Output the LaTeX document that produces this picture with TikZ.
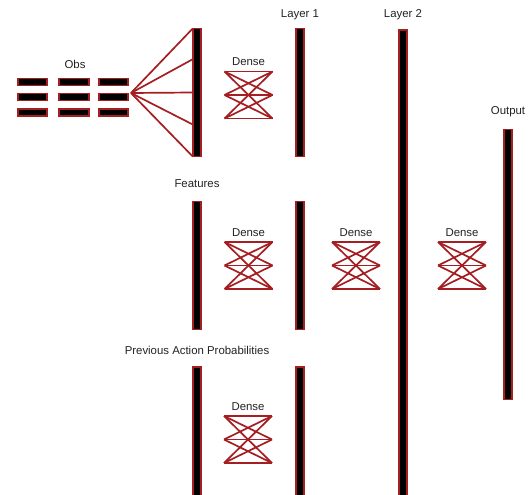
\documentclass[tikz,border=0pt]{standalone}
\usepackage{fontspec}
\setmainfont{Liberation Sans}
\usetikzlibrary{calc}
\definecolor{netred}{HTML}{A51E22}
\definecolor{labelgray}{HTML}{222222}
\tikzset{
  bar/.style={draw=netred, fill=black, line width=1.6pt, minimum width=8.5pt, inner sep=0pt, outer sep=0pt},
  obsbox/.style={draw=netred, fill=black, line width=1.6pt, minimum width=29.5pt, minimum height=7pt, inner sep=0pt},
  lbl/.style={text=labelgray, font=\fontsize{11.4}{13}\selectfont, inner sep=0pt},
  wire/.style={draw=netred, line width=1.7pt},
  dense/.pic={
    \foreach \a in {-23.5,0,23.5}
      \foreach \b in {-23.5,0,23.5}
        \draw[wire] (-24,\a) -- (24,\b);
  }
}
\begin{document}
\begin{tikzpicture}[x=1pt, y=-1pt]
\useasboundingbox (0,0) rectangle (530,495);
\clip (0,0) rectangle (530,495);

% observation grid
\foreach \cx [count=\i] in {32.5,74,113.5}
  \foreach \cy [count=\j] in {82,97,112.5}
    \node[obsbox] (obs\i\j) at (\cx,\cy) {};
\node[lbl] (obslbl) at (75,64) {Obs};

% input bars
\node[bar, minimum height=128pt] (obsbar)  at (197,92.5) {};
\node[bar, minimum height=128pt] (featbar) at (197,265.5) {};
\node[bar, minimum height=163pt] (prevbar) at (197,448.5) {};
\node[lbl] (featlbl) at (197,184) {Features};
\node[lbl] (prevlbl) at (197,350) {Previous Action Probabilities};

% fan from observations into the first bar
\coordinate (apex) at (131,93);
\foreach \f in {0,0.24,0.5,0.75,1}
  \draw[wire] (apex) -- ($(obsbar.north west)!\f!(obsbar.south west)$);

% layer 1
\node[bar, minimum height=128pt] (l1a) at (300,92.5) {};
\node[bar, minimum height=128pt] (l1b) at (300,265.5) {};
\node[bar, minimum height=163pt] (l1c) at (300,448.5) {};
\node[lbl] (l1lbl) at (300,15) {Layer 1};

% layer 2
\node[bar, minimum height=500pt] (l2) at (403,280) {};
\node[lbl] (l2lbl) at (403,15) {Layer 2};

% output
\node[bar, minimum height=270pt] (outbar) at (508,264.5) {};
\node[lbl] (outlbl) at (508,112) {Output};

% dense connections
\pic at (248.5,95) {dense};
\node[lbl] (d1) at (248.5,62) {Dense};
\pic at (248.5,265.5) {dense};
\node[lbl] (d2) at (248.5,233) {Dense};
\pic at (356,265.5) {dense};
\node[lbl] (d3) at (356,233) {Dense};
\pic at (462,265.5) {dense};
\node[lbl] (d4) at (462,233) {Dense};
\pic at (248,439.5) {dense};
\node[lbl] (d5) at (248,407) {Dense};
\end{tikzpicture}
\end{document}
